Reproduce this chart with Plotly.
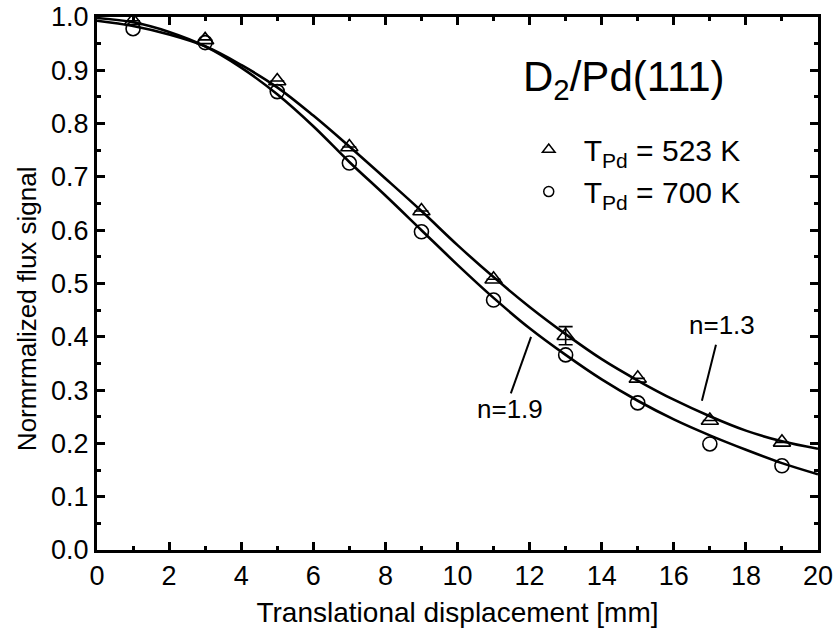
import plotly.graph_objects as go

# Measured flux signal vs. translational displacement
x_pts = [1, 3, 5, 7, 9, 11, 13, 15, 17, 19]
flux_523 = [0.993, 0.957, 0.880, 0.756, 0.636, 0.508, 0.402, 0.322, 0.243, 0.202]
err_523 = [None, None, None, None, None, None, 0.017, None, None, None]
flux_700 = [0.978, 0.952, 0.860, 0.726, 0.597, 0.469, 0.366, 0.276, 0.199, 0.158]

# Fitted curves
x_fit = list(range(0, 21))
fit_n13 = [0.993, 0.983, 0.967, 0.945, 0.910, 0.868, 0.815, 0.757, 0.697, 0.636, 0.572,
           0.512, 0.456, 0.405, 0.358, 0.318, 0.282, 0.251, 0.224, 0.204, 0.190]
fit_n19 = [0.998, 0.990, 0.972, 0.945, 0.905, 0.855, 0.795, 0.728, 0.665, 0.600, 0.535,
           0.473, 0.416, 0.366, 0.320, 0.280, 0.245, 0.215, 0.188, 0.163, 0.142]

FONT = "Liberation Sans, Arial, sans-serif"
BLACK = "#000000"

fig = go.Figure()

fig.add_trace(go.Scatter(x=x_fit, y=fit_n13, mode="lines", line=dict(color=BLACK, width=2.6, shape="spline"),
                         showlegend=False, hoverinfo="skip"))
fig.add_trace(go.Scatter(x=x_fit, y=fit_n19, mode="lines", line=dict(color=BLACK, width=2.6, shape="spline"),
                         showlegend=False, hoverinfo="skip"))

fig.add_trace(go.Scatter(x=x_pts, y=flux_523, mode="markers",
                         marker=dict(symbol="triangle-up-open", size=15, color=BLACK, line=dict(width=1.6)),
                         error_y=dict(type="data", array=err_523, color=BLACK, thickness=1.6, width=7),
                         showlegend=False))
fig.add_trace(go.Scatter(x=x_pts, y=flux_700, mode="markers",
                         marker=dict(symbol="circle-open", size=14, color=BLACK, line=dict(width=1.6)),
                         showlegend=False))

# Legend entries
fig.add_trace(go.Scatter(x=[None], y=[None], mode="markers", name="T<sub>Pd</sub> = 523 K",
                         marker=dict(symbol="triangle-up-open", size=11, color=BLACK, line=dict(width=1.5))))
fig.add_trace(go.Scatter(x=[None], y=[None], mode="markers", name="T<sub>Pd</sub> = 700 K",
                         marker=dict(symbol="circle-open", size=10, color=BLACK, line=dict(width=1.5))))

axis_common = dict(
    showline=True, linecolor=BLACK, linewidth=3, mirror="allticks",
    ticks="inside", ticklen=8, tickwidth=3, tickcolor=BLACK,
    showgrid=False, zeroline=False, automargin=False, ticklabeloverflow="allow",
    tickfont=dict(family=FONT, size=27, color=BLACK),
)

fig.update_xaxes(range=[0, 20], dtick=2, tick0=0,
                 minor=dict(dtick=1, ticks="inside", ticklen=4, tickwidth=3, tickcolor=BLACK),
                 title=dict(text="Translational displacement [mm]", font=dict(family=FONT, size=28, color=BLACK),
                            standoff=12),
                 **axis_common)
fig.update_yaxes(range=[0, 1.0], dtick=0.1, tick0=0, tickformat=".1f",
                 minor=dict(dtick=0.05, ticks="inside", ticklen=4, tickwidth=3, tickcolor=BLACK),
                 **axis_common)

# Y-axis title, placed slightly below the axis centre
fig.add_annotation(xref="paper", yref="paper", x=-0.097, y=0.452, text="Normrmalized flux signal",
                   textangle=-90, showarrow=False, xanchor="center", yanchor="middle",
                   font=dict(family=FONT, size=26, color=BLACK))

# Curve labels with leader lines
fig.add_annotation(x=11.46, y=0.265, text="n=1.9", showarrow=False, xanchor="center", yanchor="middle",
                   font=dict(family=FONT, size=26, color=BLACK))
fig.add_shape(type="line", x0=11.48, y0=0.294, x1=12.04, y1=0.40, line=dict(color=BLACK, width=2))
fig.add_annotation(x=17.34, y=0.422, text="n=1.3", showarrow=False, xanchor="center", yanchor="middle",
                   font=dict(family=FONT, size=26, color=BLACK))
fig.add_shape(type="line", x0=17.17, y0=0.385, x1=16.78, y1=0.28, line=dict(color=BLACK, width=2))

# System label
fig.add_annotation(xref="paper", yref="paper", x=0.731, y=0.882, text="D<sub>2</sub>/Pd(111)",
                   xanchor="center", yanchor="middle",
                   showarrow=False, font=dict(family=FONT, size=42, color=BLACK))

fig.update_layout(
    width=833, height=634,
    margin=dict(l=97, r=15, t=17, b=84),
    paper_bgcolor="white", plot_bgcolor="white",
    legend=dict(x=0.578, y=0.80, xanchor="left", yanchor="top",
                font=dict(family=FONT, size=30, color=BLACK),
                bgcolor="rgba(0,0,0,0)", itemsizing="trace", itemwidth=60),
)

fig.write_html("out.html")
